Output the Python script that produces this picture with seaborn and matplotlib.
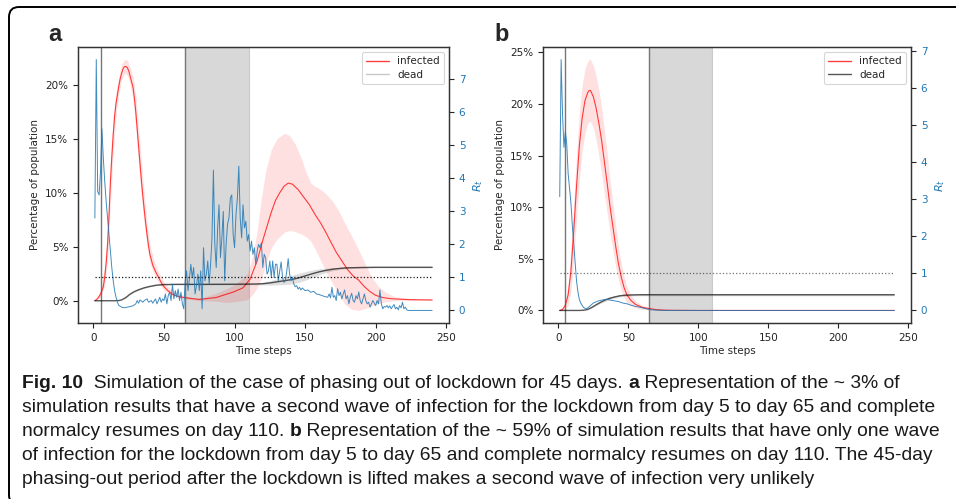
import matplotlib
matplotlib.use('Agg')
import matplotlib.pyplot as plt
from matplotlib import font_manager
from matplotlib.lines import Line2D
from matplotlib.patches import FancyBboxPatch
from matplotlib.ticker import PercentFormatter
from matplotlib.transforms import IdentityTransform
import numpy as np
import seaborn as sns

W, H = 956, 499

# ---------------- panel a: second wave ----------------
inf_days_a = [1, 3, 5, 7, 8, 9, 10, 11, 12, 13, 14, 15, 16, 17, 18, 19, 20, 21, 22, 23, 24, 25,
              26, 27, 28, 29, 30, 31, 32, 33, 34, 35, 36, 37, 38, 39, 40, 42, 44, 46, 48, 50, 53,
              56, 60, 64, 70, 75, 87, 99, 106, 111, 116, 120, 123, 126, 129, 132, 135, 138, 141,
              145, 149, 153, 157, 161, 164, 168, 172, 176, 180, 184, 188, 192, 196, 200, 205, 210,
              216, 225, 240]
inf_a = [0.0, 0.2, 0.6, 1.3, 2.2, 3.5, 5.2, 7.8, 11.0, 13.3, 15.4, 17.1, 18.3, 19.1, 19.9, 20.6,
         21.1, 21.5, 21.7, 21.7, 21.6, 21.3, 20.8, 20.3, 19.8, 18.8, 17.5, 15.9, 14.3, 12.7, 11.1,
         9.7, 8.4, 7.2, 6.1, 5.1, 4.3, 3.3, 2.7, 2.2, 1.7, 1.3, 0.9, 0.6, 0.4, 0.3, 0.2, 0.12, 0.3,
         0.8, 1.2, 2.0, 3.7, 5.6, 6.9, 8.2, 9.3, 10.0, 10.6, 10.9, 10.8, 10.3, 9.6, 8.9, 8.0, 7.2,
         6.5, 5.5, 4.5, 3.7, 2.9, 2.3, 1.9, 1.3, 0.85, 0.5, 0.3, 0.2, 0.15, 0.1, 0.07]

band_days_a = [1, 5, 8, 10, 12, 14, 16, 18, 20, 22, 24, 26, 28, 30, 32, 34, 36, 38, 40, 43, 46,
               50, 55, 60, 65, 70, 75, 80, 87, 94, 100, 105, 109, 113, 116, 119, 122, 126, 130,
               134, 136, 139, 143, 147, 151, 154, 157, 160, 164, 169, 174, 178, 183, 188, 193,
               197, 202, 207, 213, 220, 230, 240]
inf_hi_a = [0.05, 0.9, 3.2, 7.0, 13.0, 17.0, 19.4, 20.8, 21.9, 22.35, 22.3, 21.6, 20.8, 19.0,
            16.0, 12.8, 9.8, 7.2, 5.2, 3.7, 2.7, 1.7, 1.0, 0.65, 0.45, 0.3, 0.25, 0.4, 0.7, 1.1,
            1.5, 2.0, 2.5, 4.2, 6.5, 9.5, 12.0, 14.0, 15.0, 15.4, 15.5, 15.3, 14.5, 13.3, 11.8,
            10.9, 10.6, 10.4, 10.0, 9.3, 8.3, 7.2, 6.0, 4.7, 3.3, 2.2, 1.3, 0.8, 0.4, 0.25, 0.15,
            0.12]
inf_lo_a = [0.0, 0.35, 1.4, 3.7, 9.0, 13.7, 17.1, 19.2, 20.5, 21.05, 20.9, 20.0, 18.7, 16.0,
            12.6, 9.6, 7.1, 5.1, 3.5, 2.4, 1.7, 0.95, 0.5, 0.3, 0.15, 0.1, 0.0, 0.0, -0.05, -0.15,
            -0.1, 0.0, 0.1, 0.6, 1.2, 2.1, 3.3, 4.9, 5.7, 6.2, 6.4, 6.5, 6.4, 6.2, 5.9, 5.5, 4.8,
            4.0, 2.9, 1.7, 0.6, -0.3, -0.8, -0.9, -0.7, -0.5, -0.25, -0.1, 0.0, 0.02, 0.03, 0.03]

dead_days_a = [1, 10, 15, 18, 20, 23, 26, 29, 32, 36, 40, 45, 50, 60, 80, 100, 115, 120, 125, 130,
               135, 140, 145, 150, 155, 160, 165, 170, 175, 180, 190, 200, 220, 240]
dead_a = [0.0, 0.0, 0.0, 0.02, 0.08, 0.3, 0.62, 0.85, 1.02, 1.2, 1.33, 1.45, 1.5, 1.52, 1.52, 1.53,
          1.55, 1.58, 1.65, 1.75, 1.85, 1.95, 2.1, 2.3, 2.5, 2.68, 2.82, 2.93, 3.0, 3.05, 3.08,
          3.1, 3.1, 3.1]
dead_sd_a = [0.0, 0.0, 0.0, 0.01, 0.02, 0.04, 0.05, 0.06, 0.06, 0.06, 0.05, 0.05, 0.05, 0.05,
             0.05, 0.05, 0.07, 0.12, 0.2, 0.28, 0.35, 0.4, 0.42, 0.4, 0.35, 0.28, 0.2, 0.14, 0.1,
             0.07, 0.06, 0.05, 0.05, 0.05]

rt_days_a = [1, 2, 3, 4, 5, 6, 7, 8, 9, 10, 11, 12, 13, 14, 15, 16, 17, 18, 20, 22, 24, 26, 28,
             30, 31, 32, 33, 35, 36, 38, 39, 41, 42, 44, 45, 47, 48, 49, 50, 51, 52, 53, 54, 55,
             56, 57, 58, 59, 60, 61, 62, 63, 64] + list(range(65, 149)) + \
            [150, 152, 154, 156, 158, 160, 162, 164, 166] + list(range(167, 224)) + [230, 240]
rt_a = [2.8, 7.6, 3.6, 3.5, 4.2, 5.5, 4.6, 3.9, 3.3, 2.8, 2.3, 1.8, 1.3, 0.9, 0.6, 0.4, 0.25,
        0.15, 0.1, 0.08, 0.1, 0.12, 0.14, 0.2, 0.3, 0.22, 0.32, 0.25, 0.3, 0.35, 0.25, 0.3, 0.22,
        0.35, 0.2, 0.4, 0.25, 0.35, 0.3, 0.5, 0.2, 0.45, 0.55, 0.3, 0.8, 0.35, 0.6, 0.4, 0.65,
        0.3, 0.55, 0.2, 0.05,
        # 65 - 110
        0.9, 1.2, 0.6, 0.95, 1.4, 1.0, 1.3, 0.5, 0.75, 1.1, 0.6, 1.2, 0.05, 1.9, 0.9, 1.1, 1.5,
        0.8, 1.4, 2.2, 4.25, 2.0, 1.3, 2.5, 3.2, 1.6, 2.2, 3.0, 0.9, 2.0, 2.6, 2.8, 3.4, 3.5, 2.3,
        1.9, 2.9, 3.4, 4.37, 2.8, 2.2, 3.2, 2.5, 2.7, 2.1, 2.3,
        # 111 - 148
        1.8, 2.1, 1.7, 1.9, 1.4, 1.8, 2.0, 1.9, 2.05, 1.3, 1.7, 1.6, 1.1, 1.2, 1.5, 1.0, 1.5, 1.0,
        1.4, 1.4, 0.9, 1.2, 1.47, 1.0, 0.85, 0.9, 1.2, 1.57, 1.1, 0.9, 1.0, 0.8, 0.72, 0.75, 0.65,
        0.7, 0.62, 0.68,
        0.6, 0.62, 0.55, 0.58, 0.5, 0.48, 0.45, 0.42, 0.4,
        # 167 - 223
        0.5, 0.38, 0.7, 0.4, 0.45, 0.3, 0.66, 0.45, 0.55, 0.35, 0.5, 0.62, 0.35, 0.45, 0.2, 0.4,
        0.52, 0.3, 0.25, 0.45, 0.35, 0.56, 0.3, 0.2, 0.35, 0.5, 0.3, 0.2, 0.25, 0.1, 0.2, 0.3,
        0.22, 0.15, 0.3, 0.2, 0.62, 0.2, 0.05, 0.12, 0.1, 0.15, 0.08, 0.14, 0.05, 0.12, 0.18,
        0.05, 0.1, 0.02, 0.15, 0.08, 0.25, 0.05, 0.1, 0.02, 0.0,
        0.0, 0.0]

# ---------------- panel b: single wave ----------------
inf_days_b = [1, 3, 5, 7, 9, 11, 13, 15, 17, 19, 21, 22, 23, 25, 27, 29, 31, 33, 35, 37, 39, 41,
              43, 45, 47, 49, 52, 55, 60, 65, 70, 75, 80, 90, 100, 240]
inf_b = [0.0, 0.1, 0.5, 1.5, 3.8, 7.7, 12.0, 15.9, 18.6, 20.3, 21.1, 21.3, 21.3, 20.7, 19.6, 18.1,
         16.4, 14.3, 12.2, 10.0, 8.1, 6.2, 4.5, 3.2, 2.2, 1.5, 0.95, 0.6, 0.3, 0.18, 0.08, 0.04,
         0.02, 0.01, 0.0, 0.0]
inf_sd_b = [0.0, 0.1, 0.4, 1.0, 2.0, 2.8, 3.2, 3.3, 3.2, 3.1, 3.0, 3.0, 3.0, 3.0, 3.1, 3.2, 3.2,
            3.1, 2.9, 2.6, 2.3, 2.0, 1.6, 1.3, 1.0, 0.75, 0.5, 0.35, 0.2, 0.12, 0.06, 0.03, 0.02,
            0.01, 0.0, 0.0]

dead_days_b = [1, 15, 18, 21, 24, 27, 30, 33, 36, 40, 44, 48, 52, 58, 65, 240]
dead_b = [0.0, 0.0, 0.02, 0.1, 0.3, 0.55, 0.78, 0.98, 1.15, 1.3, 1.42, 1.48, 1.5, 1.52, 1.52, 1.52]
dead_sd_b = [0.0, 0.0, 0.01, 0.03, 0.06, 0.09, 0.11, 0.12, 0.12, 0.12, 0.11, 0.1, 0.1, 0.1, 0.1,
             0.1]

rt_days_b = [1, 2, 3, 4, 5, 6, 7, 8, 9, 10, 11, 12, 13, 14, 15, 16, 18, 20, 22, 25, 28, 31, 34,
             37, 40, 43, 46, 49, 52, 55, 58, 62, 66, 70, 75, 240]
rt_b = [3.07, 6.77, 5.3, 4.4, 4.82, 4.5, 3.7, 3.3, 2.9, 2.3, 1.8, 1.3, 0.8, 0.5, 0.3, 0.2, 0.08,
        0.04, 0.1, 0.2, 0.25, 0.28, 0.3, 0.28, 0.26, 0.24, 0.2, 0.18, 0.14, 0.11, 0.09, 0.05,
        0.02, 0.01, 0.0, 0.0]

lockdown_start, lockdown_end, normal_day = 5, 65, 110
pct_ticks_a = [0, 5, 10, 15, 20]
pct_ticks_b = [0, 5, 10, 15, 20, 25]
rt_ticks = [0, 1, 2, 3, 4, 5, 6, 7]
x_ticks = [0, 50, 100, 150, 200, 250]

caption_lines = [
    [('Fig. 10', True), ('  Simulation of the case of phasing out of lockdown for 45 days. ', False),
     ('a', True), (' Representation of the ~ 3% of', False)],
    [('simulation results that have a second wave of infection for the lockdown from day 5 to day 65 and complete', False)],
    [('normalcy resumes on day 110. ', False), ('b', True),
     (' Representation of the ~ 59% of simulation results that have only one wave', False)],
    [('of infection for the lockdown from day 5 to day 65 and complete normalcy resumes on day 110. The 45-day', False)],
    [('phasing-out period after the lockdown is lifted makes a second wave of infection very unlikely', False)],
]

sns.set_theme(style='ticks')
plt.rcParams['font.family'] = ['DejaVu Sans']
plt.rcParams['axes.edgecolor'] = '#333333'
plt.rcParams['axes.linewidth'] = 0.9

BLUE = '#1f77b4'
installed = {f.name for f in font_manager.fontManager.ttflist}
CAP_FONT = 'Liberation Sans Narrow' if 'Liberation Sans Narrow' in installed else 'Liberation Sans'


def draw_panel(ax, inf_days, inf, band_days, inf_lo, inf_hi, dead_days, dead, dead_sd,
               rt_days, rt, pct_ticks, dead_legend_color, dotted_alpha):
    ax.axvline(lockdown_start, color='#777777', lw=1.0)
    ax.axvline(lockdown_end, color='#777777', lw=1.0)
    ax.axvspan(lockdown_end, normal_day, color='gray', alpha=0.3, lw=0.8)

    ax.fill_between(band_days, inf_lo, inf_hi, color='red', alpha=0.12, lw=0)
    sns.lineplot(x=inf_days, y=inf, ax=ax, color='red', lw=0.8, alpha=0.75,
                 estimator=None, sort=False)
    dead = np.array(dead)
    dead_sd = np.array(dead_sd)
    ax.fill_between(dead_days, dead - dead_sd, dead + dead_sd, color='gray', alpha=0.25, lw=0)
    sns.lineplot(x=dead_days, y=dead, ax=ax, color='black', lw=1.0, alpha=0.65,
                 estimator=None, sort=False)

    ax.yaxis.set_major_formatter(PercentFormatter(decimals=0))
    ax.set_yticks(pct_ticks)
    ax.set_xticks(x_ticks)
    ax.set_xlabel('Time steps', fontsize=7.5, labelpad=2)
    ax.set_ylabel('Percentage of population', fontsize=7.5)
    ax.tick_params(labelsize=7.5, length=3.5, width=0.8, colors='#222222')

    ax2 = ax.twinx()
    sns.lineplot(x=rt_days, y=rt, ax=ax2, color=BLUE, lw=0.7, alpha=0.85,
                 estimator=None, sort=False)
    ax2.plot([rt_days[0], rt_days[-1]], [1, 1], ls=':', color='black', lw=0.9, alpha=dotted_alpha)
    ax2.set_yticks(rt_ticks)
    ax2.set_ylabel('$R_t$', color=BLUE, fontsize=8)
    ax2.tick_params(axis='y', labelcolor=BLUE, labelsize=7.5, length=3.5, width=0.8)
    ax2.margins(x=0.05, y=0.05)

    handles = [Line2D([], [], color='red', alpha=0.75, lw=1.0),
               Line2D([], [], color=dead_legend_color, lw=1.0)]
    leg = ax2.legend(handles, ['infected', 'dead'], loc='upper right', fontsize=7.5,
                     frameon=True, handlelength=2.2, borderpad=0.4, labelspacing=0.35)
    leg.get_frame().set_edgecolor('#cccccc')
    leg.get_frame().set_linewidth(0.8)
    return ax2


fig = plt.figure(figsize=(W / 100, H / 100), dpi=100)
ax_a = fig.add_axes([78 / W, 1 - 323 / H, (449 - 78) / W, (323 - 47) / H])
ax_b = fig.add_axes([543 / W, 1 - 323 / H, (911 - 543) / W, (323 - 47) / H])

draw_panel(ax_a, inf_days_a, inf_a, band_days_a, inf_lo_a, inf_hi_a, dead_days_a, dead_a,
           dead_sd_a, rt_days_a, rt_a, pct_ticks_a, '#c8c8c8', 0.9)
inf_b_arr = np.array(inf_b)
sd_b_arr = np.array(inf_sd_b)
draw_panel(ax_b, inf_days_b, inf_b, inf_days_b, inf_b_arr - sd_b_arr, inf_b_arr + sd_b_arr,
           dead_days_b, dead_b, dead_sd_b, rt_days_b, rt_b, pct_ticks_b, '#555555', 0.55)

fig.text(48 / W, 1 - 41 / H, 'a', fontsize=17, fontweight='bold', family='Liberation Sans')
fig.text(494 / W, 1 - 41 / H, 'b', fontsize=17, fontweight='bold', family='Liberation Sans')

# caption, fitted to the width of the second line
renderer = fig.canvas.get_renderer()
probe = fig.text(0, 0, caption_lines[1][0][0], fontsize=10, family=CAP_FONT)
cap_size = 10 * 920 / probe.get_window_extent(renderer).width
probe.remove()

for i, parts in enumerate(caption_lines):
    x = 22
    y = 388 + 24 * i
    for txt, bold in parts:
        t = fig.text(x / W, 1 - y / H, txt, fontsize=cap_size, family=CAP_FONT,
                     fontweight='bold' if bold else 'normal', va='baseline', ha='left',
                     color='#1a1a1a')
        x += t.get_window_extent(renderer).width

frame = FancyBboxPatch((9, -6), 1000, H - 7 + 6, boxstyle='round,pad=0,rounding_size=10',
                       transform=IdentityTransform(), fill=False, lw=1.4, ec='black')
fig.add_artist(frame)

fig.savefig('out.png', dpi=100)
